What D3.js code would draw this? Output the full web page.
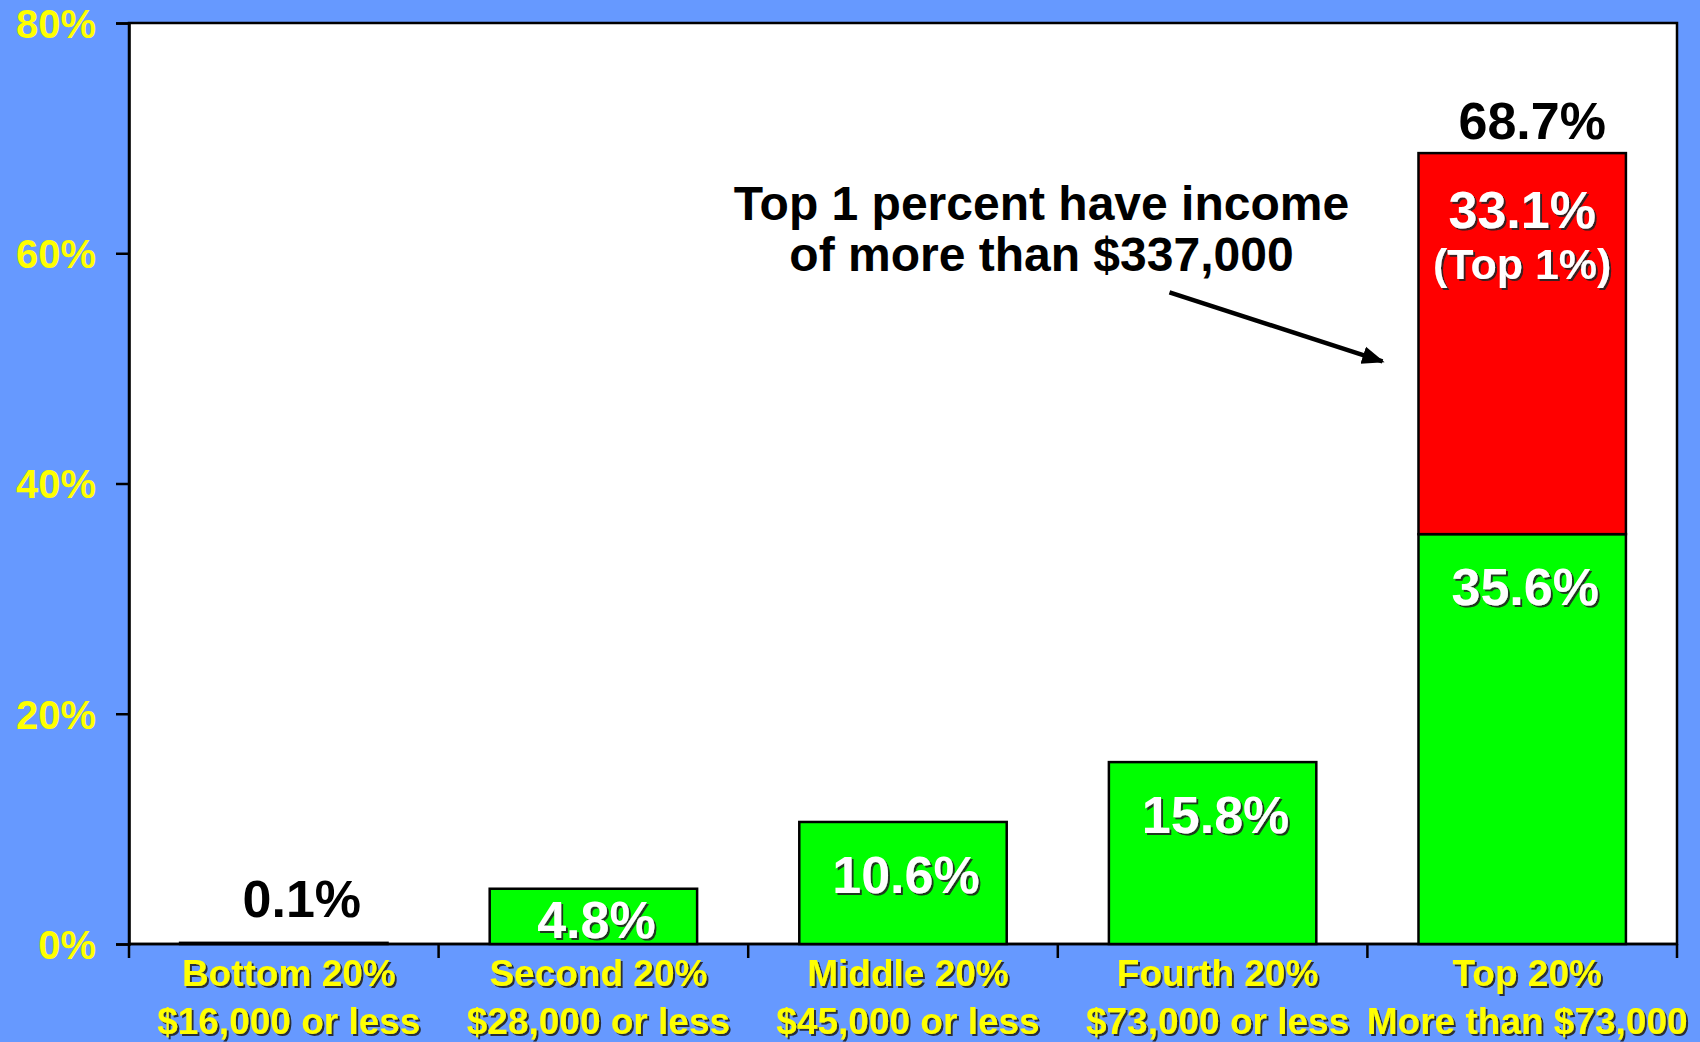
<!DOCTYPE html>
<html>
<head>
<meta charset="utf-8">
<script src="https://cdn.jsdelivr.net/npm/d3@7"></script>
<style>
  html, body { margin: 0; padding: 0; background: #6699FF; }
  svg { display: block; }
  text { font-family: "Liberation Sans", Arial, Helvetica, sans-serif; font-weight: bold; }
</style>
</head>
<body>
<svg id="chart" width="1700" height="1042"></svg>
<script>
// ---- data ----
const categories = ["Bottom 20%", "Second 20%", "Middle 20%", "Fourth 20%", "Top 20%"];
const incomeRanges = ["$16,000 or less", "$28,000 or less", "$45,000 or less", "$73,000 or less", "More than $73,000"];
const baseShares = [0.1, 4.8, 10.6, 15.8, 35.6];
const top1Shares = [0, 0, 0, 0, 33.1];
const totalShares = [0.1, 4.8, 10.6, 15.8, 68.7];
const yTickValues = [0, 20, 40, 60, 80];
const top1Label = "(Top 1%)";
const annotationLines = ["Top 1 percent have income", "of more than $337,000"];
const arrowFromValue = 56.6;
const arrowToValue = 50.6;

// ---- layout ----
const W = 1700, H = 1042;
const margin = { top: 23, right: 23, bottom: 98, left: 129 };
const svg = d3.select("#chart");

const defs = svg.append("defs");
const f = defs.append("filter").attr("id", "shadow").attr("x", "-10%").attr("y", "-10%").attr("width", "130%").attr("height", "140%");
f.append("feDropShadow").attr("dx", 2).attr("dy", 2).attr("stdDeviation", 0.6)
  .attr("flood-color", "#202020").attr("flood-opacity", 0.9);
const mk = defs.append("marker").attr("id", "arrowhead").attr("viewBox", "0 0 10 10")
  .attr("refX", 9).attr("refY", 5).attr("markerWidth", 5).attr("markerHeight", 5)
  .attr("orient", "auto").attr("markerUnits", "strokeWidth");
mk.append("path").attr("d", "M0,1 L10,5 L0,9 Z").attr("fill", "#000");

svg.append("rect").attr("width", W).attr("height", H).attr("fill", "#6699FF");

const x = d3.scaleBand().domain(categories)
  .range([margin.left, W - margin.right]).paddingInner(0.33).paddingOuter(0.165);
const y = d3.scaleLinear().domain([0, 80]).range([H - margin.bottom, margin.top]);

// plot area
svg.append("rect")
  .attr("x", margin.left).attr("y", margin.top)
  .attr("width", W - margin.left - margin.right)
  .attr("height", H - margin.top - margin.bottom)
  .attr("fill", "#fff").attr("stroke", "#000").attr("stroke-width", 2.5);

// y axis
const yAxis = svg.append("g").attr("transform", `translate(${margin.left},0)`)
  .call(d3.axisLeft(y).tickValues(yTickValues).tickFormat(d => d + "%").tickSize(13).tickPadding(20));
yAxis.select(".domain").attr("stroke", "#000").attr("stroke-width", 2.5);
yAxis.selectAll(".tick line").attr("stroke", "#000").attr("stroke-width", 2.5);
yAxis.selectAll(".tick text").attr("fill", "#FFFF00").attr("font-size", 40)
  .attr("font-family", "'Liberation Sans', Arial, sans-serif").attr("font-weight", "bold").attr("dy", "0.36em");

// x axis with ticks at band boundaries
const x0 = y(0);
svg.append("line").attr("x1", margin.left).attr("x2", W - margin.right)
  .attr("y1", x0).attr("y2", x0).attr("stroke", "#000").attr("stroke-width", 2.5);
const boundaries = [margin.left].concat(categories.map(c => x(c) + x.bandwidth() + x.step() * x.paddingInner() / 2));
boundaries[boundaries.length - 1] = W - margin.right;
svg.append("g").selectAll("line").data(boundaries).join("line")
  .attr("x1", d => d).attr("x2", d => d)
  .attr("y1", x0).attr("y2", x0 + 14)
  .attr("stroke", "#000").attr("stroke-width", 2.5);

// category labels
const catG = svg.append("g").attr("filter", "url(#shadow)");
catG.selectAll("text.l1").data(categories).join("text").attr("class", "l1")
  .attr("x", d => x(d) + x.bandwidth() / 2 + 5).attr("y", x0 + 42)
  .attr("text-anchor", "middle").attr("fill", "#FFFF00").attr("font-size", 37)
  .text(d => d);
catG.selectAll("text.l2").data(incomeRanges).join("text").attr("class", "l2")
  .attr("x", (d, i) => x(categories[i]) + x.bandwidth() / 2 + 5).attr("y", x0 + 90)
  .attr("text-anchor", "middle").attr("fill", "#FFFF00").attr("font-size", 37)
  .text(d => d);

// bars
const rows = categories.map((c, i) => ({ cat: c, base: baseShares[i], top1: top1Shares[i], total: totalShares[i] }));
svg.append("g").selectAll("rect").data(rows).join("rect")
  .attr("x", d => x(d.cat)).attr("width", x.bandwidth())
  .attr("y", d => y(d.base)).attr("height", d => Math.max(1, y(0) - y(d.base)))
  .attr("fill", "#00FF00").attr("stroke", "#000").attr("stroke-width", 2.5);
svg.append("g").selectAll("rect").data(rows.filter(d => d.top1 > 0)).join("rect")
  .attr("x", d => x(d.cat)).attr("width", x.bandwidth())
  .attr("y", d => y(d.base + d.top1)).attr("height", d => y(d.base) - y(d.base + d.top1))
  .attr("fill", "#FF0000").attr("stroke", "#000").attr("stroke-width", 2.5);

// labels inside green bars (white)
const valG = svg.append("g").attr("filter", "url(#shadow)");
const fmt = v => v.toFixed(1) + "%";
valG.selectAll("text").data(rows.filter(d => y(0) - y(d.base) > 20)).join("text")
  .attr("x", d => x(d.cat) + x.bandwidth() / 2 + 3)
  .attr("y", d => Math.min(y(d.base) + 52, y(0) - 25) + 19)
  .attr("text-anchor", "middle").attr("fill", "#fff").attr("font-size", 52)
  .text(d => fmt(d.base));
// labels inside red segment
const redRows = rows.filter(d => d.top1 > 0);
valG.selectAll("text.r1").data(redRows).join("text").attr("class", "r1")
  .attr("x", d => x(d.cat) + x.bandwidth() / 2)
  .attr("y", d => y(d.total) + 56 + 19)
  .attr("text-anchor", "middle").attr("fill", "#fff").attr("font-size", 52)
  .text(d => fmt(d.top1));
valG.selectAll("text.r2").data(redRows).join("text").attr("class", "r2")
  .attr("x", d => x(d.cat) + x.bandwidth() / 2)
  .attr("y", d => y(d.total) + 111 + 15)
  .attr("text-anchor", "middle").attr("fill", "#fff").attr("font-size", 43)
  .text(top1Label);

// black total labels above bars (small bar or stacked bar)
svg.append("g").selectAll("text").data(rows.filter(d => d.top1 > 0 || y(0) - y(d.base) <= 20)).join("text")
  .attr("x", d => x(d.cat) + x.bandwidth() / 2 + (d.top1 > 0 ? 10 : 18))
  .attr("y", d => y(d.total) - (d.top1 > 0 ? 14 : 26))
  .attr("text-anchor", "middle").attr("fill", "#000").attr("font-size", 52)
  .text(d => fmt(d.total));

// annotation
const topCat = categories[categories.length - 1];
const annX = x(topCat) - 377;
svg.append("g").selectAll("text").data(annotationLines).join("text")
  .attr("x", annX).attr("y", (d, i) => y(80) + 197 + i * 51)
  .attr("text-anchor", "middle").attr("fill", "#000").attr("font-size", 48)
  .text(d => d);
svg.append("line")
  .attr("x1", x(topCat) - 249).attr("y1", y(arrowFromValue))
  .attr("x2", x(topCat) - 36).attr("y2", y(arrowToValue))
  .attr("stroke", "#000").attr("stroke-width", 4.5)
  .attr("marker-end", "url(#arrowhead)");
</script>
</body>
</html>
